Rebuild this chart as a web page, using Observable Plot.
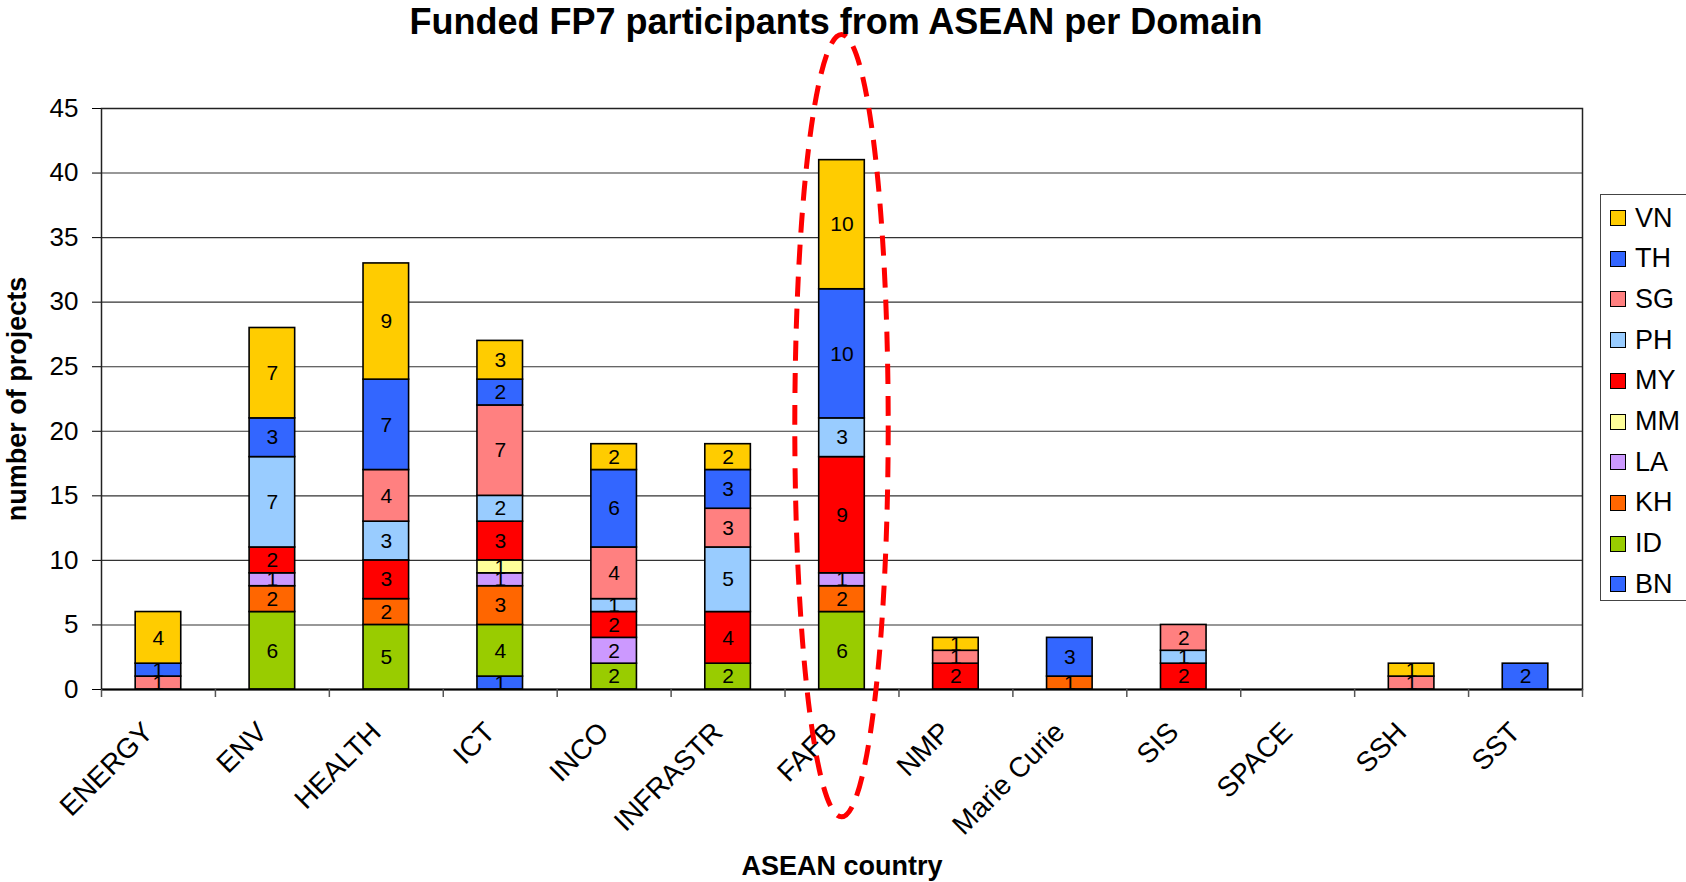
<!DOCTYPE html>
<html>
<head>
<meta charset="utf-8">
<script src="https://cdn.jsdelivr.net/npm/d3@7"></script>
<script src="https://cdn.jsdelivr.net/npm/@observablehq/plot@0.6"></script>
<style>
  html, body { margin: 0; padding: 0; background: #fff; overflow: hidden; }
  #wrap { position: relative; width: 1686px; height: 882px; font-family: "Liberation Sans", Arial, sans-serif; }
  #title { position: absolute; left: -7px; top: 4px; width: 1686px; text-align: center; font-size: 36px; line-height: 36px; font-weight: bold; color: #000; z-index: 2; }
  #legend { position: absolute; left: 1600px; top: 194px; width: 110px; height: 407px; border: 1.5px solid #444; background: #fff; box-sizing: border-box; }
  .item { position: absolute; left: 9px; height: 30px; display: flex; align-items: center; font-size: 27px; color: #000; }
  .sw { width: 14px; height: 14px; border: 1.5px solid #000; margin-right: 9px; }
  #chart { position: absolute; left: 0; top: 0; }
</style>
</head>
<body>
<div id="wrap">
  <div id="chart"></div>
  <div id="title"></div>
  <div id="legend"></div>
</div>
<script>
const titleText = "Funded FP7 participants from ASEAN per Domain";
const yLabel = "number of projects";
const xLabel = "ASEAN country";
const categories = ["ENERGY","ENV","HEALTH","ICT","INCO","INFRASTR","FAFB","NMP","Marie Curie","SIS","SPACE","SSH","SST"];
const series = ["BN","ID","KH","LA","MM","MY","PH","SG","TH","VN"];
const colors = ["#3366FF","#99CC00","#FF6600","#CC99FF","#FFFF99","#FF0000","#99CCFF","#FF8080","#3366FF","#FFCC00"];
const yTicks = [0,5,10,15,20,25,30,35,40,45];

const BN = [0,0,0,1,0,0,0,0,0,0,0,0,0];
const ID = [0,6,5,4,2,2,6,0,0,0,0,0,0];
const KH = [0,2,2,3,0,0,2,0,1,0,0,0,0];
const LA = [0,1,0,1,2,0,1,0,0,0,0,0,0];
const MM = [0,0,0,1,0,0,0,0,0,0,0,0,0];
const MY = [0,2,3,3,2,4,9,2,0,2,0,0,0];
const PH = [0,7,3,2,1,5,3,0,0,1,0,0,0];
const SG = [1,0,4,7,4,3,0,1,0,2,0,1,0];
const TH = [1,3,7,2,6,3,10,0,3,0,0,0,2];
const VN = [4,7,9,3,2,2,10,1,0,0,0,1,0];
const values = {BN, ID, KH, LA, MM, MY, PH, SG, TH, VN};

// highlighted domain and its annotation ellipse extent (in y units)
const highlight = "FAFB";
const ellipseTop = 50.7;
const ellipseBottom = -9.9;

const table = [];
for (const s of series) {
  values[s].forEach((v, i) => { if (v > 0) table.push({cat: categories[i], s, v}); });
}

const W = 1686, H = 882, mL = 101, mR = 104, mT = 108, mB = 193;
const step = (W - mL - mR) / categories.length;
const font = "'Liberation Sans', Arial, sans-serif";

const plot = Plot.plot({
  width: W, height: H,
  marginLeft: mL, marginRight: mR, marginTop: mT, marginBottom: mB,
  style: {fontFamily: font, color: "#000", background: "transparent", overflow: "visible"},
  x: {type: "band", domain: categories, paddingInner: 0.6, paddingOuter: 0.3, round: false, label: null},
  y: {domain: [0, 45], ticks: yTicks, label: null},
  color: {domain: series, range: colors},
  marks: [
    Plot.gridY(yTicks, {stroke: "#333", strokeOpacity: 1, strokeWidth: 1.1}),
    Plot.frame({stroke: "#222", strokeWidth: 1.5}),
    Plot.barY(table, Plot.stackY({x: "cat", y: "v", fill: "s", z: "s", order: series, stroke: "#000", strokeWidth: 1.6})),
    Plot.text(table, Plot.stackY({x: "cat", y: "v", z: "s", order: series, text: d => String(d.v), fontSize: 21, fill: "#000"})),
    Plot.ruleY([0], {stroke: "#000", strokeWidth: 2.2}),
    Plot.ruleX(categories, {x: d => d, y1: 0, y2: -0.62, dx: -step / 2, stroke: "#555", strokeWidth: 1.5}),
    Plot.ruleX([categories[categories.length - 1]], {x: d => d, y1: 0, y2: -0.62, dx: step / 2, stroke: "#555", strokeWidth: 1.5}),
    Plot.axisY(yTicks, {tickSize: 9, tickPadding: 14, fontSize: 26, label: null}),
    Plot.axisX({tickSize: 0, tickRotate: -45, tickPadding: 38, dx: -10, fontSize: 28, label: null}),
    Plot.text([yLabel], {frameAnchor: "left", text: d => d, rotate: -90, textAnchor: "middle", dx: -84, fontSize: 27, fontWeight: "bold"}),
    Plot.text([xLabel], {frameAnchor: "bottom", text: d => d, dy: 185, fontSize: 27, fontWeight: "bold"})
  ]
});

// annotation ellipse around highlighted domain, positioned through the scales
const xs = plot.scale("x"), ys = plot.scale("y");
const cx = xs.apply(highlight) + xs.bandwidth / 2;
const yTopPx = ys.apply(ellipseTop), yBotPx = ys.apply(ellipseBottom);
d3.select(plot).append("ellipse")
  .attr("cx", cx)
  .attr("cy", (yTopPx + yBotPx) / 2)
  .attr("rx", xs.step * 0.41)
  .attr("ry", (yBotPx - yTopPx) / 2)
  .attr("fill", "none")
  .attr("stroke", "#FF0000")
  .attr("stroke-width", 5)
  .attr("stroke-dasharray", "20 12");

document.getElementById("chart").appendChild(plot);
document.getElementById("title").textContent = titleText;

const legend = document.getElementById("legend");
const legendOrder = series.slice().reverse();
legendOrder.forEach((s, i) => {
  const item = document.createElement("div");
  item.className = "item";
  item.style.top = (8 + i * 40.7) + "px";
  const sw = document.createElement("div");
  sw.className = "sw";
  sw.style.background = colors[series.indexOf(s)];
  const lab = document.createElement("span");
  lab.textContent = s;
  item.appendChild(sw);
  item.appendChild(lab);
  legend.appendChild(item);
});
</script>
</body>
</html>
